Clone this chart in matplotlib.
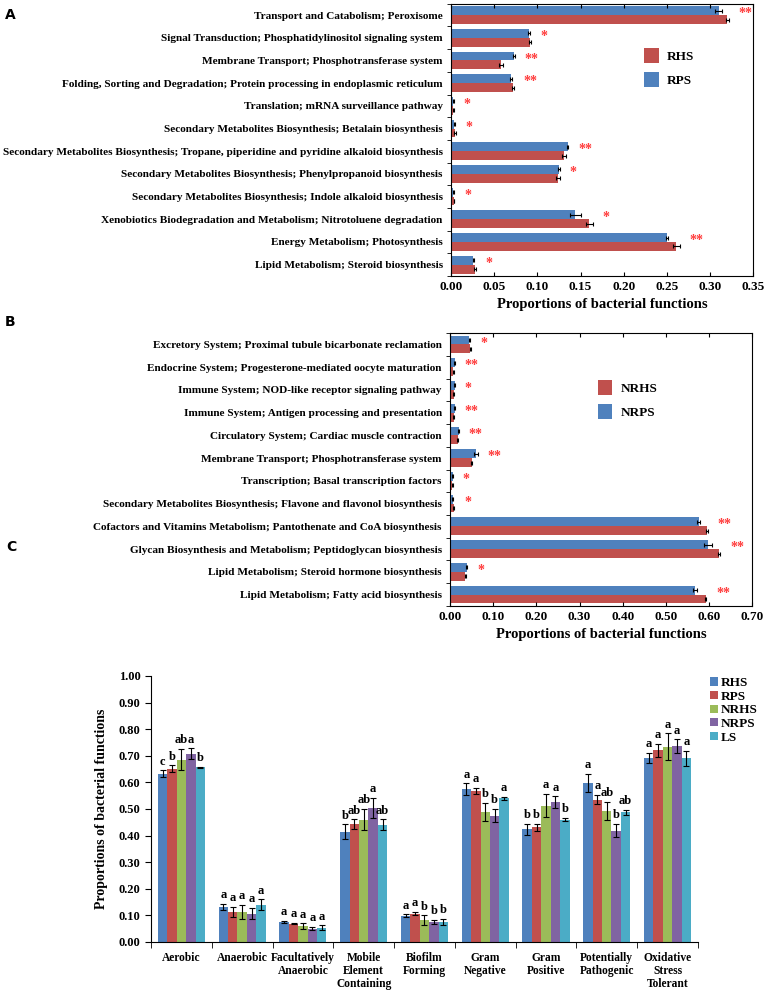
import numpy as np
import matplotlib.pyplot as plt

plt.rcParams['font.family'] = ['Liberation Serif', 'DejaVu Serif']
plt.rcParams['font.weight'] = 'bold'
plt.rcParams['axes.labelweight'] = 'bold'

RED = '#C0504D'
BLUE = '#4F81BD'
GREEN = '#9BBB59'
PURPLE = '#8064A2'
CYAN = '#4BACC6'
STAR = '#FF3B3B'

# ---------- panel A data (top to bottom) ----------
a_labels = ['Transport and Catabolism; Peroxisome',
            'Signal Transduction; Phosphatidylinositol signaling system',
            'Membrane Transport; Phosphotransferase system',
            'Folding, Sorting and Degradation; Protein processing in endoplasmic reticulum',
            'Translation; mRNA surveillance pathway',
            'Secondary Metabolites Biosynthesis; Betalain biosynthesis',
            'Secondary Metabolites Biosynthesis; Tropane, piperidine and pyridine alkaloid biosynthesis',
            'Secondary Metabolites Biosynthesis; Phenylpropanoid biosynthesis',
            'Secondary Metabolites Biosynthesis; Indole alkaloid biosynthesis',
            'Xenobiotics Biodegradation and Metabolism; Nitrotoluene degradation',
            'Energy Metabolism; Photosynthesis',
            'Lipid Metabolism; Steroid biosynthesis']
a_rhs = [0.320, 0.0915, 0.058, 0.072, 0.0027, 0.005, 0.131, 0.124, 0.0035, 0.160, 0.261, 0.0275]
a_rhs_err = [0.002, 0.001, 0.002, 0.001, 0.0003, 0.001, 0.002, 0.002, 0.0003, 0.004, 0.004, 0.001]
a_rps = [0.310, 0.090, 0.073, 0.0695, 0.0025, 0.004, 0.135, 0.1254, 0.0027, 0.144, 0.250, 0.026]
a_rps_err = [0.004, 0.001, 0.001, 0.001, 0.0005, 0.001, 0.001, 0.001, 0.0003, 0.006, 0.001, 0.0005]
a_sig = ['**', '*', '**', '**', '*', '*', '**', '*', '*', '*', '**', '*']

# ---------- panel B data (top to bottom) ----------
b_labels = ['Excretory System; Proximal tubule bicarbonate reclamation',
            'Endocrine System; Progesterone-mediated oocyte maturation',
            'Immune System; NOD-like receptor signaling pathway',
            'Immune System; Antigen processing and presentation',
            'Circulatory System; Cardiac muscle contraction',
            'Membrane Transport; Phosphotransferase system',
            'Transcription; Basal transcription factors',
            'Secondary Metabolites Biosynthesis; Flavone and flavonol biosynthesis',
            'Cofactors and Vitamins Metabolism; Pantothenate and CoA biosynthesis',
            'Glycan Biosynthesis and Metabolism; Peptidoglycan biosynthesis',
            'Lipid Metabolism; Steroid hormone biosynthesis',
            'Lipid Metabolism; Fatty acid biosynthesis']
b_nrhs = [0.047, 0.008, 0.0085, 0.0085, 0.018, 0.050, 0.005, 0.009, 0.596, 0.623, 0.035, 0.592]
b_nrhs_err = [0.001, 0.001, 0.001, 0.001, 0.001, 0.001, 0.001, 0.001, 0.002, 0.003, 0.001, 0.002]
b_nrps = [0.045, 0.011, 0.011, 0.011, 0.020, 0.060, 0.006, 0.006, 0.576, 0.598, 0.039, 0.568]
b_nrps_err = [0.001, 0.001, 0.001, 0.001, 0.001, 0.004, 0.001, 0.001, 0.004, 0.010, 0.001, 0.004]
b_sig = ['*', '**', '*', '**', '**', '**', '*', '*', '**', '**', '*', '**']

# ---------- panel C data ----------
c_cats = ['Aerobic', 'Anaerobic', 'Facultatively\nAnaerobic', 'Mobile\nElement\nContaining',
          'Biofilm\nForming', 'Gram\nNegative', 'Gram\nPositive', 'Potentially\nPathogenic',
          'Oxidative\nStress\nTolerant']
c_groups = ['RHS', 'RPS', 'NRHS', 'NRPS', 'LS']
c_rhs = [0.633, 0.132, 0.075, 0.414, 0.099, 0.574, 0.424, 0.597, 0.692]
c_rps = [0.652, 0.113, 0.069, 0.443, 0.107, 0.568, 0.431, 0.535, 0.720]
c_nrhs = [0.686, 0.113, 0.060, 0.460, 0.082, 0.488, 0.513, 0.493, 0.734]
c_nrps = [0.708, 0.107, 0.050, 0.505, 0.075, 0.475, 0.525, 0.418, 0.737]
c_ls = [0.656, 0.140, 0.054, 0.441, 0.074, 0.540, 0.460, 0.488, 0.690]
c_rhs_err = [0.012, 0.010, 0.004, 0.028, 0.005, 0.022, 0.020, 0.035, 0.020]
c_rps_err = [0.012, 0.020, 0.002, 0.018, 0.007, 0.012, 0.012, 0.018, 0.025]
c_nrhs_err = [0.040, 0.025, 0.010, 0.040, 0.018, 0.035, 0.045, 0.035, 0.050]
c_nrps_err = [0.020, 0.022, 0.006, 0.038, 0.009, 0.025, 0.022, 0.025, 0.025]
c_ls_err = [0.003, 0.020, 0.008, 0.020, 0.012, 0.006, 0.006, 0.010, 0.027]
c_letters = [['c', 'b', 'ab', 'a', 'b'],
             ['a', 'a', 'a', 'a', 'a'],
             ['a', 'a', 'a', 'a', 'a'],
             ['b', 'ab', 'ab', 'a', 'ab'],
             ['a', 'a', 'b', 'b', 'b'],
             ['a', 'a', 'b', 'b', 'a'],
             ['b', 'b', 'a', 'a', 'b'],
             ['a', 'a', 'ab', 'b', 'ab'],
             ['a', 'a', 'a', 'a', 'a']]


def hbar_panel(ax, labels, lower, lower_err, upper, upper_err, sig, xmax, step,
               names, legend_pos):
    n = len(labels)
    y = np.arange(n)
    h = 0.39
    ax.barh(y - h / 2, upper, h, color=BLUE, xerr=upper_err,
            error_kw=dict(ecolor='black', capsize=1.5, elinewidth=0.8, capthick=0.8),
            label=names[1])
    ax.barh(y + h / 2, lower, h, color=RED, xerr=lower_err,
            error_kw=dict(ecolor='black', capsize=1.5, elinewidth=0.8, capthick=0.8),
            label=names[0])
    for i in range(n):
        end = max(lower[i] + lower_err[i], upper[i] + upper_err[i])
        ax.annotate(sig[i], (end, i), xytext=(7, 1), textcoords='offset points',
                    color=STAR, fontsize=10, va='center', ha='left')
    ax.set_ylim(n - 0.5, -0.5)
    ax.set_xlim(0, xmax)
    ticks = np.arange(0, xmax + 1e-9, step)
    ax.set_xticks(ticks)
    ax.set_xticklabels(['%.2f' % t for t in ticks], fontsize=9.5)
    ax.set_yticks(y)
    ax.set_yticklabels(labels, fontsize=8.1)
    ax.tick_params(axis='y', length=0, pad=6)
    ax.set_yticks(np.arange(-0.5, n), minor=True)
    ax.tick_params(axis='y', which='minor', length=3, direction='out')
    ax.tick_params(axis='x', length=3, direction='in', top=True)
    ax.set_xlabel('Proportions of bacterial functions', fontsize=10.5, labelpad=4)
    handles, lbls = ax.get_legend_handles_labels()
    ax.legend(handles[::-1], lbls[::-1], loc='upper left', bbox_to_anchor=legend_pos,
              frameon=False, fontsize=9.5, handlelength=1.1, handleheight=1.3,
              handletextpad=0.6, labelspacing=0.7)
    for s in ax.spines.values():
        s.set_linewidth(0.8)


fig = plt.figure(figsize=(7.67, 9.90), dpi=100)

axA = fig.add_axes([0.588, 0.7212, 0.394, 0.275])
hbar_panel(axA, a_labels, a_rhs, a_rhs_err, a_rps, a_rps_err, a_sig, 0.35, 0.05,
           ['RHS', 'RPS'], (0.6, 0.88))

axB = fig.add_axes([0.5867, 0.3879, 0.394, 0.2757])
hbar_panel(axB, b_labels, b_nrhs, b_nrhs_err, b_nrps, b_nrps_err, b_sig, 0.70, 0.10,
           ['NRHS', 'NRPS'], (0.45, 0.87))

# ---------- panel C ----------
axC = fig.add_axes([0.1969, 0.0485, 0.713, 0.2687])
x = np.arange(len(c_cats))
w = 0.155
vals = [c_rhs, c_rps, c_nrhs, c_nrps, c_ls]
errs = [c_rhs_err, c_rps_err, c_nrhs_err, c_nrps_err, c_ls_err]
cols = [BLUE, RED, GREEN, PURPLE, CYAN]
for k in range(5):
    pos = x + (k - 2) * w
    axC.bar(pos, vals[k], w, color=cols[k], yerr=errs[k], label=c_groups[k],
            error_kw=dict(ecolor='black', capsize=2, elinewidth=0.8, capthick=0.8))
    for i in range(len(c_cats)):
        axC.annotate(c_letters[i][k], (pos[i], vals[k][i] + errs[k][i]),
                     xytext=(0, 2), textcoords='offset points',
                     ha='center', va='bottom', fontsize=9)
axC.set_xlim(-0.5, len(c_cats) - 0.5)
axC.set_ylim(0, 1.0)
axC.set_yticks(np.arange(0, 1.01, 0.1))
axC.set_yticklabels(['%.2f' % t for t in np.arange(0, 1.01, 0.1)], fontsize=9)
axC.set_xticks(x)
axC.set_xticklabels(c_cats, fontsize=8.3, linespacing=1.15)
axC.tick_params(axis='x', which='major', length=0, pad=7)
axC.set_xticks(np.arange(-0.5, len(c_cats)), minor=True)
axC.tick_params(axis='x', which='minor', length=4, direction='out')
axC.tick_params(axis='y', length=4, direction='out')
axC.spines['top'].set_visible(False)
axC.spines['right'].set_visible(False)
axC.set_ylabel('Proportions of bacterial functions', fontsize=10, labelpad=8)
axC.legend(loc='upper left', bbox_to_anchor=(1.0, 1.04), frameon=False, fontsize=9.5,
           handlelength=0.6, handleheight=0.6, handletextpad=0.2, labelspacing=0.12)

fig.text(0.006, 0.985, 'A', fontsize=10, family='DejaVu Sans', weight='bold', va='center')
fig.text(0.006, 0.675, 'B', fontsize=10, family='DejaVu Sans', weight='bold', va='center')
fig.text(0.008, 0.447, 'C', fontsize=10, family='DejaVu Sans', weight='bold', va='center')

fig.savefig('out.png', dpi=100)
